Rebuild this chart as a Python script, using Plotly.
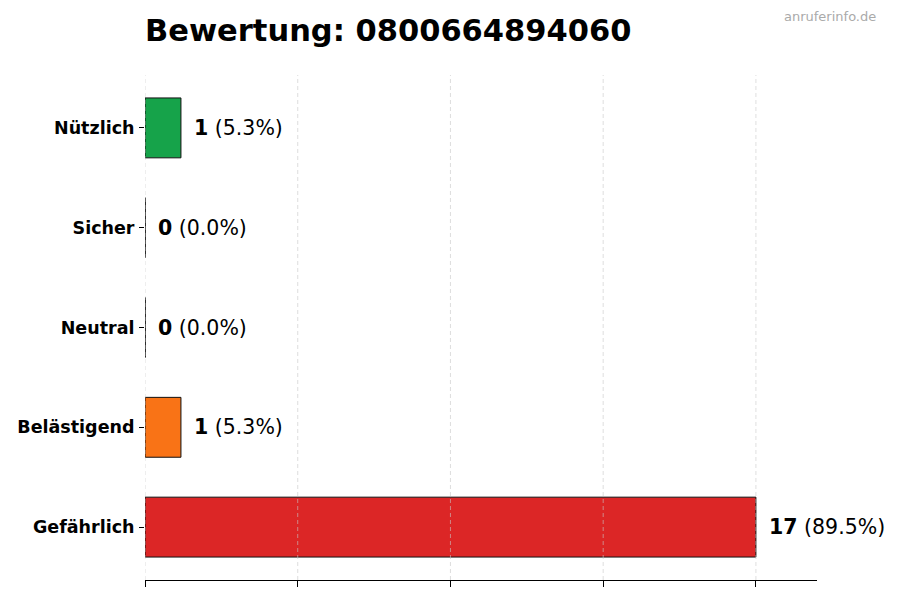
import plotly.graph_objects as go

# ratings from top to bottom as shown
categories = ["Nützlich", "Sicher", "Neutral", "Belästigend", "Gefährlich"]
counts = [1, 0, 0, 1, 17]
colors = ["#16a34a", "#15803d", "#6b7280", "#f97316", "#dc2626"]
title = "Bewertung: 0800664894060"
watermark = "anruferinfo.de"

total = sum(counts)
# y positions: top category gets the highest value
ypos = list(range(len(categories) - 1, -1, -1))
vmax = max(counts)
xticks = [vmax * k / 4 for k in range(5)]
yrange = [-0.53, len(categories) - 1 + 0.53]

# page puts the figure 8px in from the corner, so margins are shifted
W, H = 900, 600
ml, mr, mt, mb = 137, 91, 67, 28
pw, ph = W - ml - mr, H - mt - mb

fig = go.Figure()
fig.add_trace(go.Bar(
    x=counts, y=ypos, orientation="h", width=0.6,
    marker=dict(color=colors, line=dict(color="#111111", width=1)),
    hoverinfo="skip", showlegend=False,
))

# zero bars still show their edge as a thin line
for c, y in zip(counts, ypos):
    if c == 0:
        fig.add_trace(go.Scatter(
            x=[c, c], y=[y - 0.3, y + 0.3], mode="lines",
            line=dict(color="#111111", width=1), hoverinfo="skip", showlegend=False,
        ))

# grid drawn on top of the bars
gx, gy = [], []
for t in xticks:
    gx += [t, t, None]
    gy += [yrange[0], yrange[1], None]
fig.add_trace(go.Scatter(
    x=gx, y=gy, mode="lines",
    line=dict(color="rgba(200,200,200,0.6)", width=1, dash="4px,3px"),
    hoverinfo="skip", showlegend=False,
))

for c, y in zip(counts, ypos):
    pct = c / total * 100
    fig.add_annotation(
        x=c, y=y, xref="x", yref="y", xanchor="left", yanchor="middle",
        xshift=11, showarrow=False,
        text="<b>%d</b> (%.1f%%)" % (c, pct),
        font=dict(size=20.5, color="black"),
    )

fig.add_annotation(
    x=(870 - ml) / pw, y=(H - mb - 9) / ph, xref="paper", yref="paper",
    showarrow=False, text=watermark, font=dict(size=13, color="#aaaaaa"),
    xanchor="right", yanchor="middle",
)

fig.update_layout(
    width=W, height=H,
    margin=dict(l=ml, r=mr, t=mt, b=mb, autoexpand=False),
    paper_bgcolor="white", plot_bgcolor="white",
    font=dict(family="DejaVu Sans", color="black"),
    title=dict(
        text="<b>%s</b>" % title, x=ml / W, xanchor="left",
        y=1 - 22 / H, yanchor="middle", font=dict(size=30.5, color="black"),
    ),
)
fig.update_xaxes(
    range=[0, vmax * 1.1],
    tickvals=xticks,
    showticklabels=False, ticks="outside", ticklen=6, tickcolor="black",
    showline=True, linecolor="black", linewidth=1,
    showgrid=False, zeroline=False,
)
fig.update_yaxes(
    range=yrange,
    tickvals=ypos, ticktext=["<b>%s</b>" % c for c in categories],
    tickfont=dict(size=17.5, color="black"), ticklabelstandoff=1,
    ticks="outside", ticklen=5, tickcolor="black",
    showline=False, showgrid=False, zeroline=False,
)

fig.write_html("out.html")
